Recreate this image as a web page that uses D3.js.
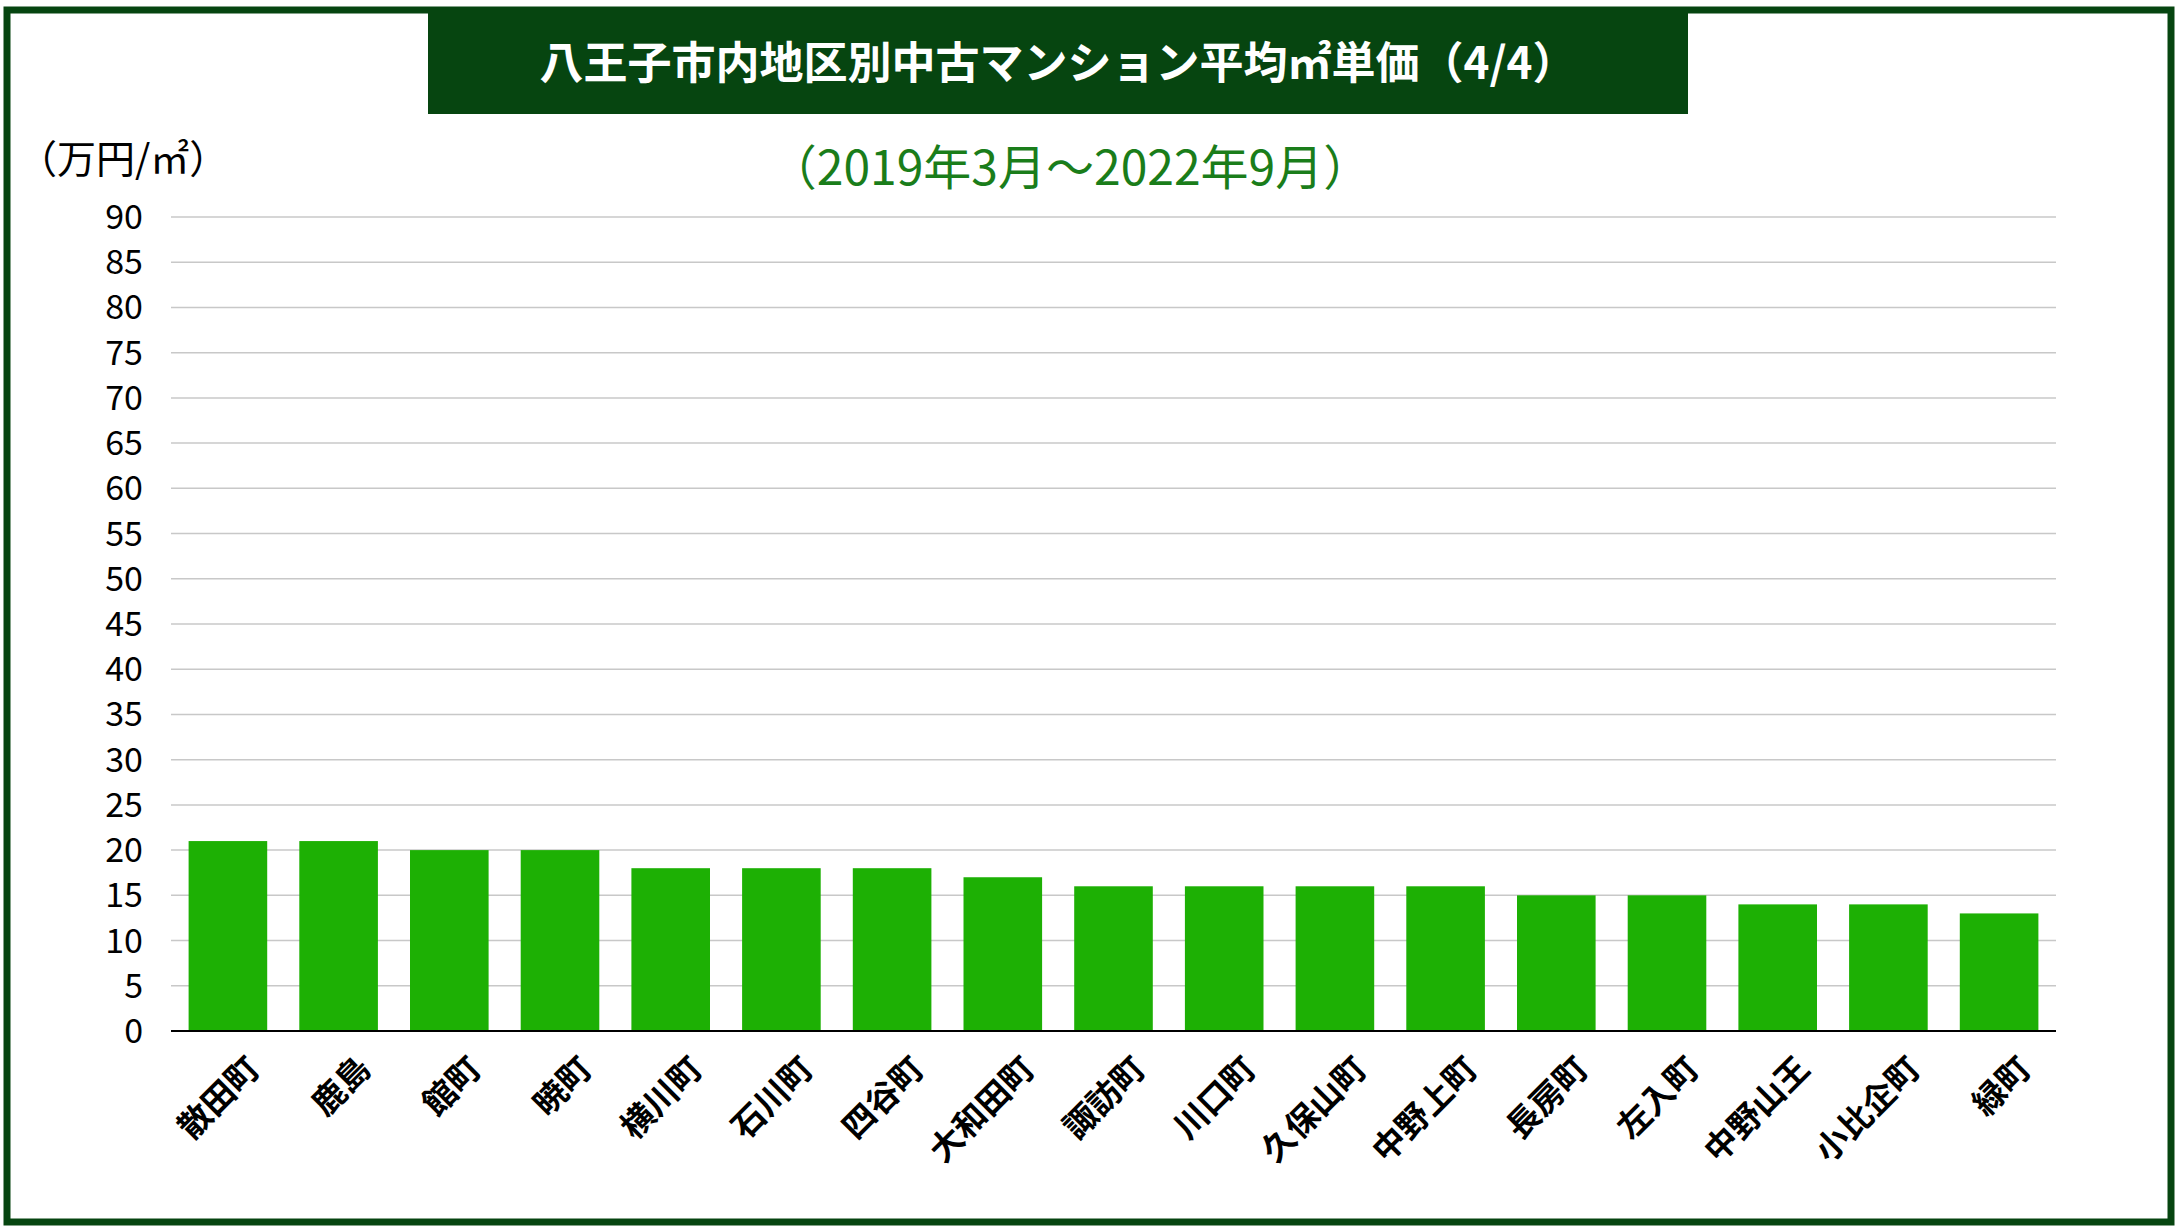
<!DOCTYPE html>
<html><head><meta charset="utf-8">
<script src="https://cdn.jsdelivr.net/npm/d3@7"></script>
<style>body{margin:0;background:#fff}</style></head>
<body><svg id="c" width="2178" height="1230"></svg>
<script>
const categories=["散田町","鹿島","館町","暁町","横川町","石川町","四谷町","大和田町","諏訪町","川口町","久保山町","中野上町","長房町","左入町","中野山王","小比企町","緑町"];
const values=[21,21,20,20,18,18,18,17,16,16,16,16,15,15,14,14,13];
const yTicks=d3.range(0,91,5);
const title="八王子市内地区別中古マンション平均㎡単価（4/4）";
const subtitle="（2019年3月～2022年9月）";
const unit="（万円/㎡）";
const svg=d3.select("#c");
const F="'Noto Sans CJK JP','Noto Sans',sans-serif";
svg.append("rect").attr("x",7).attr("y",10).attr("width",2164).attr("height",1212).attr("fill","none").attr("stroke","#064510").attr("stroke-width",7);
svg.append("rect").attr("x",428).attr("y",13).attr("width",1260).attr("height",101).attr("fill","#064510");
svg.append("text").attr("x",1058).attr("y",79).attr("text-anchor","middle").attr("fill","#fff").attr("font-family",F).attr("font-weight","bold").attr("font-size",44).text(title);
svg.append("text").attr("x",1070).attr("y",185).attr("text-anchor","middle").attr("fill","#1a7d1a").attr("font-family",F).attr("font-size",48).text(subtitle);
svg.append("text").attr("x",18).attr("y",173).attr("fill","#000").attr("font-family",F).attr("font-size",39).text(unit);
const L=171,R=2056,T=217,B=1031;
const x=d3.scaleBand().domain(categories).range([L+1,R-1]).paddingInner(0.29).paddingOuter(0.15);
const y=d3.scaleLinear().domain([0,90]).range([B,T]);
svg.append("g").selectAll("line").data(yTicks.slice(1)).join("line").attr("x1",L).attr("x2",R).attr("y1",d=>y(d)).attr("y2",d=>y(d)).attr("stroke","#c8c8c8").attr("stroke-width",1.5);
svg.append("g").selectAll("text").data(yTicks).join("text").attr("x",143).attr("y",d=>y(d)+12).attr("text-anchor","end").attr("font-family",F).attr("font-size",34).text(d=>d);
svg.append("g").selectAll("rect").data(values).join("rect").attr("x",(d,i)=>x(categories[i])).attr("width",x.bandwidth()).attr("y",d=>y(d)).attr("height",d=>B-y(d)).attr("fill","#1db004");
svg.append("line").attr("x1",L).attr("x2",R).attr("y1",B).attr("y2",B).attr("stroke","#000").attr("stroke-width",2);
svg.append("g").selectAll("text").data(categories).join("text")
 .attr("transform",d=>`translate(${x(d)+x.bandwidth()/2+34},${B+40}) rotate(-45)`)
 .attr("text-anchor","end").attr("font-family",F).attr("font-weight","bold").attr("font-size",33).text(d=>d);
</script></body></html>
